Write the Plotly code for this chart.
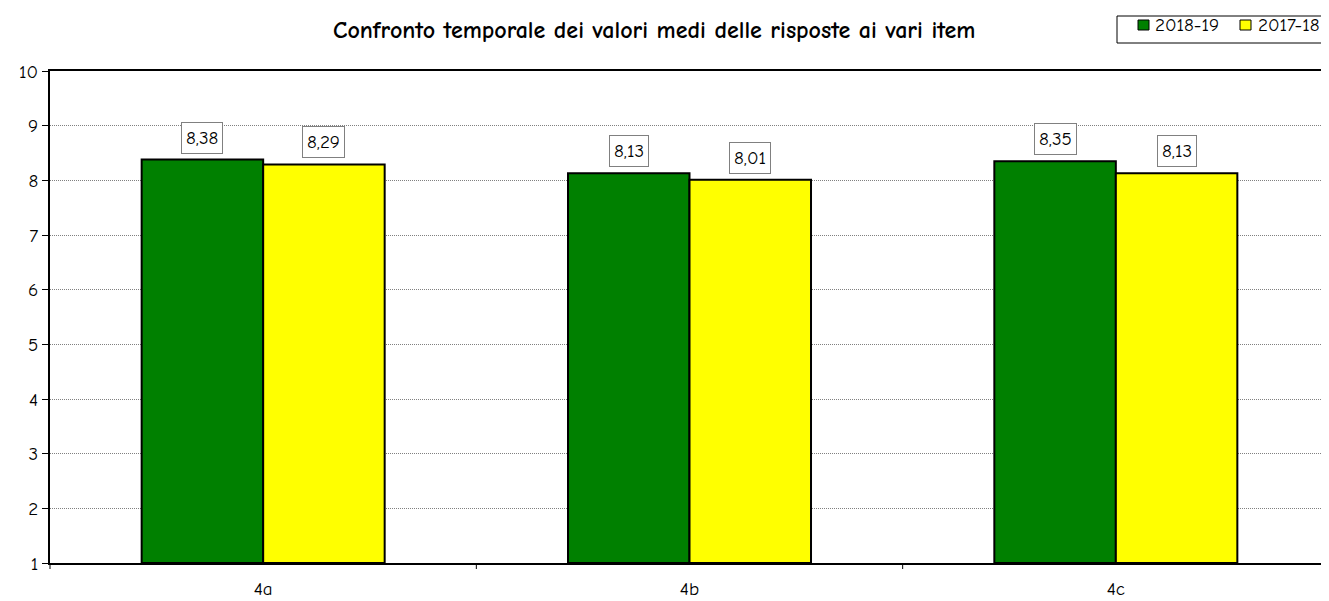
import plotly.graph_objects as go

categories = ["4a", "4b", "4c"]
series_names = ["2018-19", "2017-18"]
values_2018_19 = [8.38, 8.13, 8.35]
values_2017_18 = [8.29, 8.01, 8.13]
colors = ["#008000", "#FFFF00"]
title_text = "Confronto temporale dei valori medi delle risposte ai vari item"

FONT = "Comic Sans MS, Comic Neue, DejaVu Sans, sans-serif"
bargap = 0.43
base = 1

# the page body has an 8px default margin; figure sized so it ends at the window edge
OFF = 8
W, H = 1329 - OFF, 601 - OFF
L, R, T, B = 50 - OFF, 0, 71 - OFF, 38
PW, PH = W - L - R, H - T - B


def px(x):  # page pixel -> paper coord
    return (x - OFF - L) / PW


def py(y):
    return 1 - (y - OFF - T) / PH


fig = go.Figure()
for name, vals, col in zip(series_names, [values_2018_19, values_2017_18], colors):
    fig.add_trace(go.Bar(
        x=list(range(len(categories))), y=[v - base for v in vals], base=base, name=name,
        marker=dict(color=col, line=dict(color="black", width=2)),
        hoverinfo="skip", showlegend=False,
    ))

bw = (1 - bargap) / 2
annotations = []
for k, vals in enumerate([values_2018_19, values_2017_18]):
    off = -bw / 2 if k == 0 else bw / 2
    for i, v in enumerate(vals):
        annotations.append(dict(
            x=i + off, y=v, xref="x", yref="y", text=f"{v:.2f}".replace(".", ","),
            showarrow=False, yanchor="bottom", yshift=6,
            bordercolor="#808080", borderwidth=1, borderpad=4, bgcolor="white",
            font=dict(family=FONT, size=19, color="black"),
        ))
annotations.append(dict(
    x=px(654), y=py(30), xref="paper", yref="paper",
    text="<b>" + title_text + "</b>", showarrow=False, xanchor="center", yanchor="middle",
    font=dict(family=FONT, size=24, color="black"),
))

# manual legend
shapes = []
shapes.append(dict(type="rect", xref="paper", yref="paper",
                   x0=px(1117), x1=px(1332), y0=py(43), y1=py(16),
                   line=dict(color="black", width=1), fillcolor="white", layer="above"))
legend_items = [(1138, 1153), (1240, 1256)]
for (sx, tx), name, col in zip(legend_items, series_names, colors):
    shapes.append(dict(type="rect", xref="paper", yref="paper",
                       x0=px(sx), x1=px(sx + 11), y0=py(30), y1=py(20),
                       line=dict(color="black", width=1), fillcolor=col, layer="above"))
    annotations.append(dict(
        x=px(tx), y=py(25), xref="paper", yref="paper", text=name, showarrow=False,
        xanchor="left", yanchor="middle", font=dict(family=FONT, size=19, color="black"),
    ))

# category boundary ticks on x axis
for b in [0.5, 1.5]:
    shapes.append(dict(type="line", xref="x", yref="paper", x0=b, x1=b, y0=0, y1=-6 / PH,
                       line=dict(color="black", width=1)))
shapes.append(dict(type="line", xref="paper", yref="paper", x0=0, x1=0, y0=0, y1=-6 / PH,
                   line=dict(color="black", width=1)))

fig.update_layout(
    width=W, height=H,
    margin=dict(l=L, r=R, t=T, b=B, autoexpand=False),
    paper_bgcolor="white", plot_bgcolor="white",
    barmode="group", bargap=bargap, bargroupgap=0,
    font=dict(family=FONT, size=19, color="black"),
    annotations=annotations, shapes=shapes,
    showlegend=False,
    xaxis=dict(
        tickmode="array", tickvals=list(range(len(categories))), ticktext=categories,
        range=[-0.5, len(categories) - 0.5], automargin=False,
        showline=True, linecolor="black", linewidth=2, mirror=True,
        ticks="", showgrid=False, zeroline=False,
        tickfont=dict(family=FONT, size=19), ticklabelstandoff=7,
    ),
    yaxis=dict(
        range=[1, 10], dtick=1, tick0=1, automargin=False,
        showline=True, linecolor="black", linewidth=2,
        ticks="outside", ticklen=6, tickcolor="black", tickwidth=1,
        showgrid=True, gridcolor="#808080", gridwidth=1, griddash="1px,1px",
        zeroline=False, tickfont=dict(family=FONT, size=19),
    ),
)

fig.write_html("out.html")
